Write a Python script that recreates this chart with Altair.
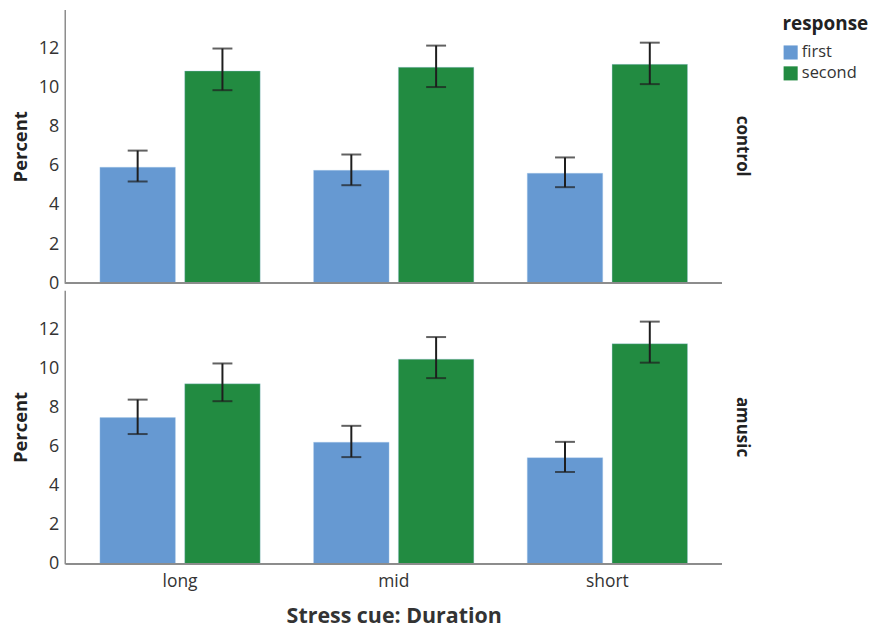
import altair as alt
import pandas as pd

durations = ["long", "mid", "short"]
responses = ["first", "second"]
groups = ["control", "amusic"]

# values per group, per duration, per response
control_first = [5.93, 5.77, 5.62]
control_second = [10.85, 11.04, 11.19]
control_first_lo = [5.20, 5.01, 4.91]
control_first_hi = [6.78, 6.58, 6.43]
control_second_lo = [9.87, 10.03, 10.18]
control_second_hi = [12.00, 12.15, 12.30]

amusic_first = [7.48, 6.22, 5.43]
amusic_second = [9.21, 10.47, 11.26]
amusic_first_lo = [6.64, 5.46, 4.70]
amusic_first_hi = [8.40, 7.06, 6.24]
amusic_second_lo = [8.32, 9.50, 10.29]
amusic_second_hi = [10.25, 11.60, 12.39]

colors = ["#6699d2", "#228b41"]

rows = []
series = {
    ("control", "first"): (control_first, control_first_lo, control_first_hi),
    ("control", "second"): (control_second, control_second_lo, control_second_hi),
    ("amusic", "first"): (amusic_first, amusic_first_lo, amusic_first_hi),
    ("amusic", "second"): (amusic_second, amusic_second_lo, amusic_second_hi),
}
for (g, r), (vals, los, his) in series.items():
    for d, v, lo, hi in zip(durations, vals, los, his):
        rows.append({"group": g, "response": r, "duration": d, "value": v, "lo": lo, "hi": hi})
df = pd.DataFrame(rows)

FONT = "Open Sans"

x_enc = alt.X(
    "duration:N",
    sort=durations,
    scale=alt.Scale(paddingInner=0.25, paddingOuter=0.16),
    axis=alt.Axis(
        title="Stress cue: Duration",
        labelAngle=0,
        ticks=False,
        domain=False,
        labelFontSize=17.5,
        labelColor="#333333",
        labelFont=FONT,
        labelPadding=8,
        titleFontSize=21.5,
        titleFontWeight="bold",
        titleFont=FONT,
        titleColor="#333333",
        titlePadding=15,
    ),
)
xoff = alt.XOffset("response:N", sort=responses, scale=alt.Scale(paddingInner=0.11))
y_scale = alt.Scale(domain=[0, 14], nice=False)

bars = alt.Chart().mark_bar(stroke="#a8c8ea", strokeWidth=0.6, strokeOpacity=0.6).encode(
    x=x_enc,
    xOffset=xoff,
    y=alt.Y(
        "value:Q",
        scale=y_scale,
        axis=alt.Axis(
            title="Percent",
            values=[0, 2, 4, 6, 8, 10, 12],
            grid=False,
            ticks=False,
            domainColor="#8c8c8c",
            domainWidth=1.5,
            labelFontSize=18,
            labelColor="#333333",
            labelFont=FONT,
            labelPadding=6,
            titleFontSize=18.5,
            titleFontWeight="bold",
            titleFont=FONT,
            titleColor="#222222",
            titlePadding=8,
        ),
    ),
    color=alt.Color(
        "response:N",
        sort=responses,
        scale=alt.Scale(domain=responses, range=colors),
        legend=alt.Legend(
            title="response",
            titleFontSize=19,
            titleFontWeight="bold",
            titleFont=FONT,
            titleColor="#222222",
            titlePadding=10,
            labelFontSize=16.5,
            labelFont=FONT,
            labelColor="#333333",
            labelOffset=3,
            symbolType="square",
            symbolSize=200,
            symbolStrokeWidth=0,
            rowPadding=4,
            offset=26,
            padding=6,
        ),
    ),
)

rules = alt.Chart().mark_rule(color="#1e1e1e", strokeWidth=2).encode(
    x=alt.X("duration:N", sort=durations),
    xOffset=alt.XOffset("response:N", sort=responses),
    y=alt.Y("lo:Q"),
    y2="hi:Q",
)
caps_lo = alt.Chart().mark_tick(color="#1e1e1e", thickness=2, size=20).encode(
    x=alt.X("duration:N", sort=durations),
    xOffset=alt.XOffset("response:N", sort=responses),
    y=alt.Y("lo:Q"),
)
caps_hi = alt.Chart().mark_tick(color="#1e1e1e", thickness=2, size=20).encode(
    x=alt.X("duration:N", sort=durations),
    xOffset=alt.XOffset("response:N", sort=responses),
    y=alt.Y("hi:Q"),
)
baseline = alt.Chart().mark_rule(color="#8c8c8c", strokeWidth=1.5).encode(y=alt.datum(0))

layered = alt.layer(bars, rules, caps_lo, caps_hi, baseline, data=df).properties(width=659, height=275)

chart = layered.facet(
    row=alt.Row(
        "group:N",
        sort=groups,
        header=alt.Header(
            title=None,
            labelOrient="right",
            labelAngle=90,
            labelFontSize=17,
            labelFontWeight="bold",
            labelFont=FONT,
            labelColor="#222222",
            labelPadding=10,
        ),
    ),
    spacing=6,
).configure_view(stroke=None).properties(padding={"left": 3, "top": 0, "right": 0, "bottom": 2})

chart.save("out.html", embed_options={"renderer": "svg", "actions": False})
